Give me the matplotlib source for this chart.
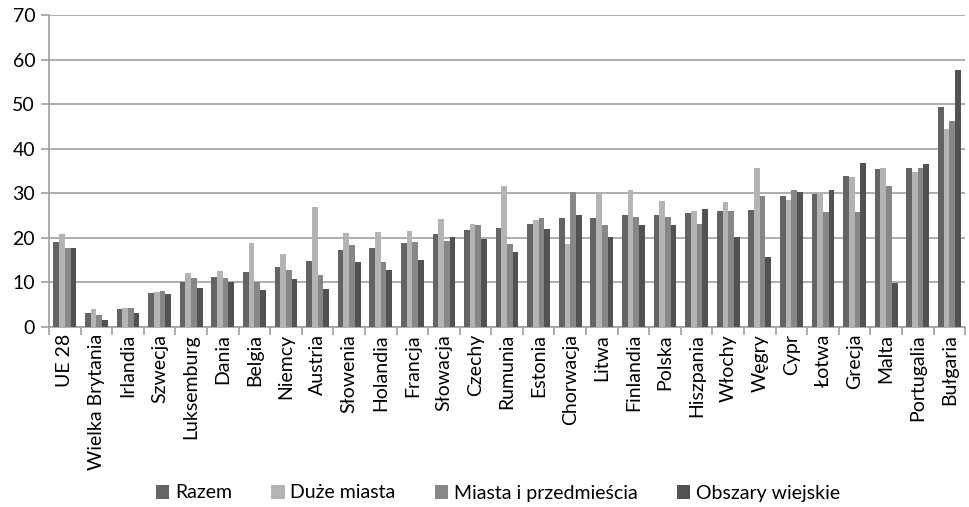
import numpy as np
import matplotlib
matplotlib.use("Agg")
from matplotlib import pyplot as plt

plt.rcParams['font.family'] = ['Lato', 'DejaVu Sans']

countries = ["UE 28", "Wielka Brytania", "Irlandia", "Szwecja", "Luksemburg", "Dania",
             "Belgia", "Niemcy", "Austria", "Słowenia", "Holandia", "Francja", "Słowacja",
             "Czechy", "Rumunia", "Estonia", "Chorwacja", "Litwa", "Finlandia", "Polska",
             "Hiszpania", "Włochy", "Węgry", "Cypr", "Łotwa", "Grecja", "Malta",
             "Portugalia", "Bułgaria"]

razem = [19.0, 3.2, 4.0, 7.6, 10.2, 11.3, 12.3, 13.5, 14.9, 17.2, 17.7, 18.8, 20.9,
         21.8, 22.2, 23.2, 24.5, 24.5, 25.1, 25.2, 25.6, 26.0, 26.3, 29.5, 29.8, 34.0,
         35.4, 35.7, 49.4]
duze_miasta = [20.8, 4.0, 4.3, 7.9, 12.2, 12.5, 18.8, 16.5, 26.9, 21.1, 21.3, 21.5, 24.2,
               23.1, 31.6, 24.0, 18.7, 29.8, 30.7, 28.3, 26.1, 28.0, 35.8, 28.6, 30.0, 33.7,
               35.8, 34.9, 44.4]
miasta_przedm = [17.7, 2.8, 4.3, 8.0, 11.1, 11.0, 10.0, 12.7, 11.6, 18.4, 14.7, 19.1, 19.4,
                 23.0, 18.7, 24.5, 30.4, 23.0, 24.8, 24.8, 23.2, 26.0, 29.5, 30.7, 25.8, 25.8,
                 31.6, 35.7, 46.3]
obszary_wiejskie = [17.7, 1.5, 3.2, 7.3, 8.7, 10.2, 8.2, 10.8, 8.5, 14.5, 12.9, 15.0, 20.2,
                    19.7, 16.8, 21.9, 25.2, 20.2, 22.9, 23.0, 26.6, 20.1, 15.8, 30.3, 30.7, 36.9,
                    9.9, 36.7, 57.7]

series = [("Razem", razem, "#646464"),
          ("Duże miasta", duze_miasta, "#b4b4b4"),
          ("Miasta i przedmieścia", miasta_przedm, "#878787"),
          ("Obszary wiejskie", obszary_wiejskie, "#525252")]

fig = plt.figure(figsize=(9.69, 5.07), dpi=100)
ax = fig.add_axes([0.0506, 0.355, 0.9454, 0.615])

x = np.arange(len(countries))
w = 0.18
for i, (name, vals, col) in enumerate(series):
    ax.bar(x + (i - 1.5) * w, vals, width=w, color=col, label=name, zorder=3)

ax.set_xlim(-0.5, len(countries) - 0.5)
ax.set_ylim(0, 70)
ax.set_yticks(range(0, 71, 10))
ax.yaxis.grid(True, color="#a0a0a0", linewidth=1.2, zorder=0)
for s in ["top", "right"]:
    ax.spines[s].set_visible(False)
for s in ["left", "bottom"]:
    ax.spines[s].set_color("#a0a0a0")
    ax.spines[s].set_linewidth(1.2)

ax.set_xticks(x)
ax.set_xticklabels(countries, rotation=90, fontsize=14)
ax.set_xticks(np.arange(-0.5, len(countries), 1), minor=True)
ax.tick_params(axis="x", which="major", length=0, pad=5)
ax.tick_params(axis="x", which="minor", length=6, color="#a0a0a0", width=1.2)
ax.tick_params(axis="y", length=6, color="#a0a0a0", width=1.2, labelsize=14, pad=4)

ax.legend(loc="center", bbox_to_anchor=(498 / 969, 1 - 493 / 507), bbox_transform=fig.transFigure,
          ncol=4, frameon=False, fontsize=14, handlelength=0.7, handleheight=0.7,
          handletextpad=0.3, columnspacing=2.0, borderaxespad=0, borderpad=0)

fig.savefig("out.png", dpi=100)
